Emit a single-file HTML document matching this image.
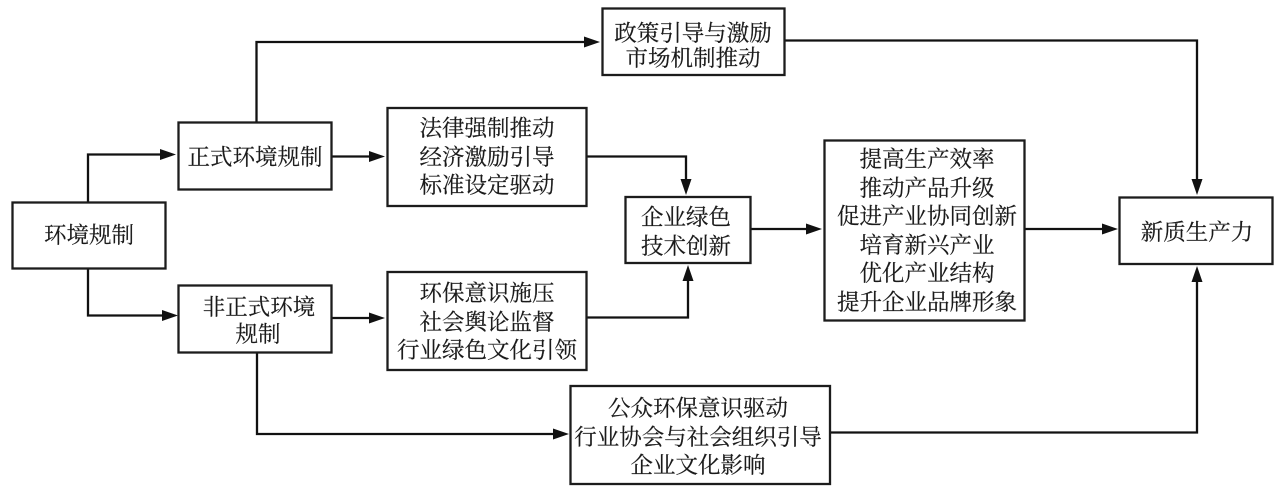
<!DOCTYPE html>
<html lang="zh">
<head>
<meta charset="utf-8">
<style>
html,body{margin:0;padding:0;background:#fff;width:1281px;height:489px;overflow:hidden}
svg{display:block}
text{font-family:"Liberation Serif","Noto Serif CJK SC",serif;font-size:22.500px;fill:#1a1a1a;stroke:#1a1a1a;stroke-width:0.2;text-anchor:middle}
.b{fill:#fff;stroke:#1c1c1c;stroke-width:2.300}
.l{fill:none;stroke:#111;stroke-width:2.300}
.a{fill:#111;stroke:none}
</style>
</head>
<body>
<svg width="1281" height="489" viewBox="0 0 1281 489" xmlns="http://www.w3.org/2000/svg">
<rect width="1281" height="489" fill="#fff"/>
<!-- connectors -->
<path class="l" d="M88 202V154.500H165"/>
<polygon class="a" points="176,154.500 160,149 160,160"/>
<path class="l" d="M88 268V315.500H165"/>
<polygon class="a" points="178,315.500 162,310 162,321"/>
<path class="l" d="M331 156.500H372"/>
<polygon class="a" points="385,156.500 369,151 369,162"/>
<path class="l" d="M331 318H372"/>
<polygon class="a" points="385,318 369,312.500 369,323.500"/>
<path class="l" d="M256.500 122V42H588"/>
<polygon class="a" points="600,42 584,36.500 584,47.500"/>
<path class="l" d="M784 40.500H1197V182"/>
<polygon class="a" points="1197,195 1191.500,179 1202.500,179"/>
<path class="l" d="M586 156.500H686V182"/>
<polygon class="a" points="686,195 680.500,179 691.500,179"/>
<path class="l" d="M586 317.500H688V278"/>
<polygon class="a" points="688,265 682.500,281 693.500,281"/>
<path class="l" d="M751 229H810"/>
<polygon class="a" points="822,229 806,223.500 806,234.500"/>
<path class="l" d="M1024 229H1106"/>
<polygon class="a" points="1118,229 1102,223.500 1102,234.500"/>
<path class="l" d="M257 352V434H556"/>
<polygon class="a" points="569,434 553,428.500 553,439.500"/>
<path class="l" d="M830 432.500H1197V278"/>
<polygon class="a" points="1197,266 1191.500,282 1202.500,282"/>
<!-- boxes -->
<rect class="b" x="12.500" y="202.500" width="153" height="66"/>
<rect class="b" x="178.500" y="122.500" width="153" height="67"/>
<rect class="b" x="178.500" y="285.500" width="153" height="67"/>
<rect class="b" x="387.500" y="108" width="199" height="98"/>
<rect class="b" x="387.500" y="272" width="199" height="98"/>
<rect class="b" x="602.500" y="8.500" width="182" height="66.500"/>
<rect class="b" x="625.500" y="197" width="125" height="66"/>
<rect class="b" x="824.500" y="140.500" width="200" height="180"/>
<rect class="b" x="1119.500" y="197.500" width="153" height="66.500"/>
<rect class="b" x="570.500" y="386" width="259.500" height="98"/>
<!-- labels -->
<text x="89" y="243">环境规制</text>
<text x="255" y="165">正式环境规制</text>
<text x="259" y="315">非正式环境</text>
<text x="258" y="342">规制</text>
<text x="487" y="136">法律强制推动</text>
<text x="487" y="165">经济激励引导</text>
<text x="487" y="193">标准设定驱动</text>
<text x="487" y="301">环保意识施压</text>
<text x="487" y="330">社会舆论监督</text>
<text x="487" y="358">行业绿色文化引领</text>
<text x="693" y="41">政策引导与激励</text>
<text x="693" y="66">市场机制推动</text>
<text x="686" y="225">企业绿色</text>
<text x="686" y="254">技术创新</text>
<text x="927" y="167">提高生产效率</text>
<text x="927" y="196">推动产品升级</text>
<text x="927" y="224">促进产业协同创新</text>
<text x="927" y="253">培育新兴产业</text>
<text x="927" y="281">优化产业结构</text>
<text x="927" y="310">提升企业品牌形象</text>
<text x="1197" y="240">新质生产力</text>
<text x="698" y="416">公众环保意识驱动</text>
<text x="698" y="445">行业协会与社会组织引导</text>
<text x="698" y="473">企业文化影响</text>
</svg>
</body>
</html>
